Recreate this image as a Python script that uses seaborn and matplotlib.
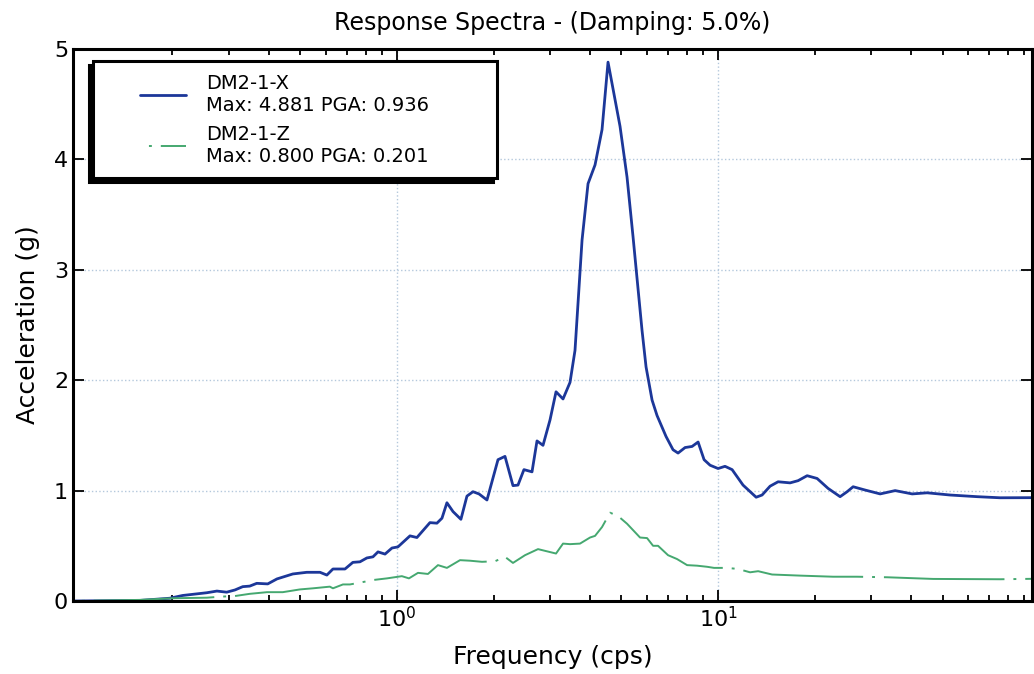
import pandas as pd
import seaborn as sns
import matplotlib.pyplot as plt
from matplotlib.lines import Line2D
from matplotlib.patches import Shadow
from matplotlib.legend_handler import HandlerLine2D

# DM2-1-X
freq_x = [0.098, 0.158, 0.196, 0.215, 0.256, 0.275, 0.295, 0.313, 0.331, 0.348,
          0.366, 0.396, 0.423, 0.474, 0.524, 0.576, 0.605, 0.632, 0.689, 0.729,
          0.767, 0.806, 0.842, 0.873, 0.918, 0.965, 1.007, 1.098, 1.154, 1.267,
          1.332, 1.381, 1.431, 1.495, 1.582, 1.652, 1.725, 1.801, 1.907, 2.064,
          2.170, 2.298, 2.382, 2.486, 2.634, 2.730, 2.850, 2.997, 3.129, 3.290,
          3.459, 3.585, 3.771, 3.936, 4.139, 4.352, 4.543, 4.951, 5.206, 5.435,
          5.798, 5.967, 6.230, 6.456, 6.887, 7.241, 7.506, 7.893, 8.299, 8.666,
          9.046, 9.443, 10.00, 10.51, 11.06, 11.96, 13.14, 13.71, 14.52, 15.38,
          16.76, 17.75, 18.94, 20.34, 22.01, 23.99, 25.23, 26.34, 28.71, 31.97,
          35.60, 40.22, 44.78, 52.80, 64.12, 75.58, 95.0]
acc_x = [0.0, 0.005, 0.025, 0.05, 0.075, 0.09, 0.08, 0.10, 0.13, 0.135,
         0.16, 0.155, 0.20, 0.245, 0.26, 0.26, 0.235, 0.29, 0.29, 0.35,
         0.355, 0.39, 0.40, 0.445, 0.425, 0.48, 0.49, 0.59, 0.575, 0.71,
         0.705, 0.75, 0.89, 0.81, 0.74, 0.95, 0.99, 0.97, 0.915, 1.28,
         1.31, 1.045, 1.05, 1.19, 1.17, 1.45, 1.41, 1.64, 1.895, 1.83,
         1.98, 2.27, 3.27, 3.78, 3.95, 4.27, 4.881, 4.30, 3.84, 3.30,
         2.45, 2.12, 1.82, 1.68, 1.49, 1.37, 1.34, 1.39, 1.40, 1.44,
         1.28, 1.23, 1.20, 1.22, 1.19, 1.05, 0.94, 0.96, 1.04, 1.08,
         1.07, 1.09, 1.135, 1.11, 1.02, 0.945, 0.99, 1.035, 1.005, 0.97,
         1.00, 0.97, 0.98, 0.96, 0.945, 0.935, 0.936]

# DM2-1-Z
freq_z = [0.098, 0.158, 0.2005, 0.256, 0.285, 0.313, 0.348, 0.394, 0.441, 0.499,
          0.548, 0.618, 0.632, 0.679, 0.714, 0.778, 0.842, 0.931, 1.036, 1.090,
          1.163, 1.249, 1.342, 1.431, 1.572, 1.688, 1.840, 2.020, 2.170, 2.298,
          2.505, 2.750, 2.933, 3.129, 3.290, 3.459, 3.716, 3.993, 4.139, 4.352,
          4.609, 4.881, 5.206, 5.715, 6.010, 6.275, 6.503, 6.986, 7.452, 8.008,
          8.604, 9.242, 9.717, 10.67, 11.54, 12.58, 13.33, 14.73, 18.01, 22.82,
          27.10, 33.62, 46.74, 75.58, 95.0]
acc_z = [0.0, 0.01, 0.025, 0.03, 0.04, 0.045, 0.065, 0.08, 0.08, 0.105,
         0.115, 0.13, 0.115, 0.15, 0.15, 0.17, 0.19, 0.205, 0.225, 0.205,
         0.255, 0.245, 0.325, 0.30, 0.37, 0.365, 0.355, 0.36, 0.40, 0.345,
         0.415, 0.47, 0.45, 0.43, 0.52, 0.515, 0.52, 0.575, 0.59, 0.67,
         0.80, 0.77, 0.70, 0.575, 0.57, 0.50, 0.50, 0.415, 0.38, 0.325,
         0.32, 0.31, 0.30, 0.30, 0.29, 0.26, 0.27, 0.24, 0.23, 0.22,
         0.22, 0.215, 0.20, 0.197, 0.201]

label_x = 'DM2-1-X\nMax: 4.881 PGA: 0.936'
label_z = 'DM2-1-Z\nMax: 0.800 PGA: 0.201'
x_ticks = [1, 10]
y_ticks = [0, 1, 2, 3, 4, 5]

sns.set_style('ticks')
plt.rcParams['font.family'] = ['DejaVu Sans']
plt.rcParams['text.color'] = 'black'
plt.rcParams['axes.labelcolor'] = 'black'

df_x = pd.DataFrame({'freq': freq_x, 'acc': acc_x})
df_z = pd.DataFrame({'freq': freq_z, 'acc': acc_z})

fig = plt.figure(figsize=(10.34, 6.74), dpi=100)
ax = fig.add_axes([0.0706, 0.1083, 0.9275, 0.819])
ax.set_xscale('log')

sns.lineplot(data=df_x, x='freq', y='acc', ax=ax, color='#1c3799', lw=2.0,
             estimator=None, label=label_x)
sns.lineplot(data=df_z, x='freq', y='acc', ax=ax, color='#45a870', lw=1.4,
             linestyle=(62, (62, 4.6, 1.5, 4.6)), estimator=None, label=label_z)

ax.set_xlim(0.098, 95)
ax.set_ylim(0, 5)
ax.set_xticks(x_ticks)
ax.set_yticks(y_ticks)
ax.grid(True, which='major', color='#b4c8dc', linestyle=':', linewidth=1.0)

ax.tick_params(which='both', direction='in', top=True, right=True,
               labelsize=16, width=1.3, colors='black')
ax.tick_params(which='major', length=8)
ax.tick_params(which='minor', length=4)
for s in ax.spines.values():
    s.set_linewidth(2.2)
    s.set_color('black')

ax.set_title('Response Spectra - (Damping: 5.0%)', fontsize=17, pad=14)
ax.set_xlabel('Frequency (cps)', fontsize=18, labelpad=10)
ax.set_ylabel('Acceleration (g)', fontsize=18, labelpad=10)

leg = ax.legend(loc='upper left', bbox_to_anchor=(0.0209, 0.0, 0.4213, 0.978),
                mode='expand', borderaxespad=0, fontsize=14, fancybox=False,
                framealpha=1, borderpad=0.65, handlelength=4.15,
                handletextpad=1.0, labelspacing=0.5,
                handler_map={Line2D: HandlerLine2D(xpad=1.75)})
leg.get_frame().set_edgecolor('black')
leg.get_frame().set_linewidth(2.2)

fig.canvas.draw()
sh = Shadow(leg.legendPatch, -3, -2.6, facecolor='black', edgecolor='black',
            alpha=1, zorder=4.9)
ax.add_artist(sh)

fig.savefig('out.png', dpi=100, facecolor='white')
